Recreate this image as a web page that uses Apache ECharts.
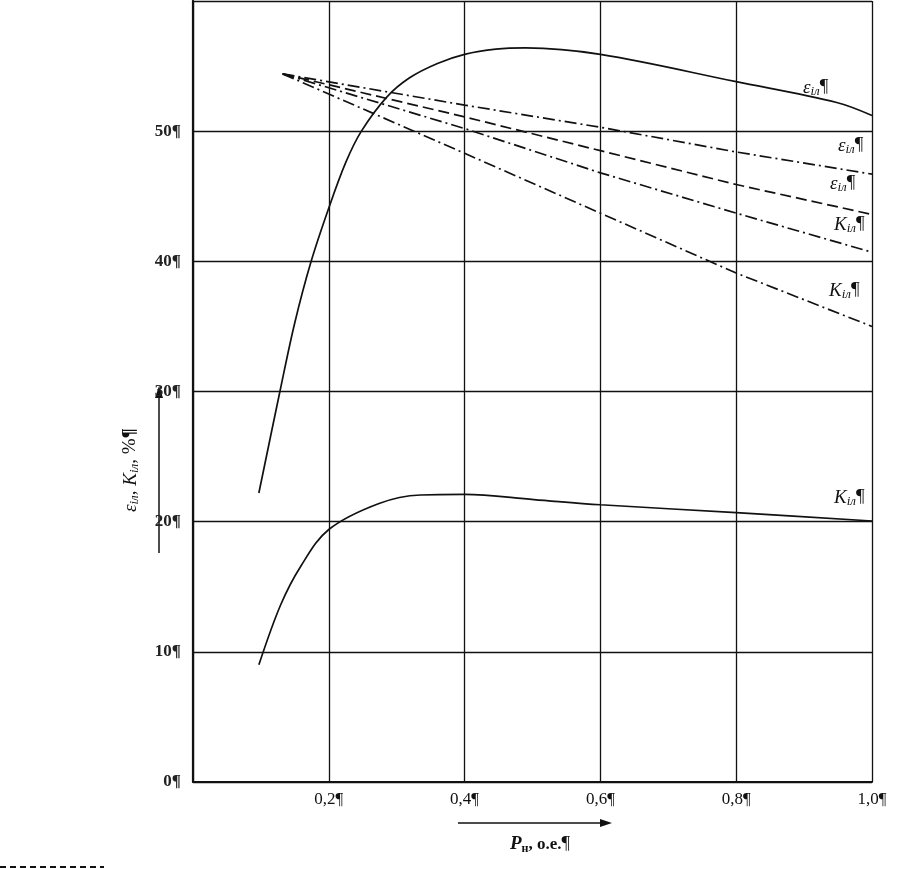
<!DOCTYPE html>
<html>
<head>
<meta charset="utf-8">
<script src="https://cdn.jsdelivr.net/npm/echarts@6/dist/echarts.min.js"></script>
<style>
  html, body { margin: 0; padding: 0; background: #fff; }
  #chart { width: 897px; height: 869px; }
</style>
</head>
<body>
<div id="chart"></div>
<script>
// tick labels
const xTicks = ['0,2¶', '0,4¶', '0,6¶', '0,8¶', '1,0¶'];
const yTicks = ['0¶', '10¶', '20¶', '30¶', '40¶', '50¶'];

// solid curves: [Pн, value %]
const epsSolid = [
  [0.097, 22.2], [0.128, 30.0], [0.15, 35.3], [0.174, 40.0], [0.2, 44.1],
  [0.225, 47.6], [0.248, 50.0], [0.285, 52.6], [0.319, 54.1], [0.36, 55.2],
  [0.4, 55.9], [0.446, 56.3], [0.49, 56.4], [0.6, 55.9], [0.8, 53.8],
  [0.948, 52.2], [1.0, 51.2]
];
const kSolid = [
  [0.097, 9.0], [0.129, 13.6], [0.159, 16.6], [0.2, 19.4],
  [0.274, 21.4], [0.335, 22.05], [0.4, 22.1], [0.502, 21.7], [0.6, 21.3],
  [0.8, 20.7], [1.0, 20.05]
];

// dashed / dash-dot straight lines
const epsDashDot = [[0.132, 54.4], [0.4, 52.0], [0.6, 50.3], [0.8, 48.4], [1.0, 46.7]];
const epsDashed = [[0.132, 54.4], [0.4, 51.1], [0.6, 48.5], [0.8, 45.9], [1.0, 43.6]];
const kDashDot1 = [[0.132, 54.4], [0.4, 50.2], [0.6, 46.8], [0.8, 43.7], [1.0, 40.7]];
const kDashDot2 = [[0.132, 54.4], [0.4, 48.3], [0.6, 43.7], [0.8, 39.1], [1.0, 35.0]];

const serif = '"Liberation Serif", "DejaVu Serif", serif';

const chart = echarts.init(document.getElementById('chart'));

// подпись ε/K с индексом іл
function curveLabel(sym, left, top) {
  return {
    type: 'text',
    left: left,
    top: top,
    style: {
      text: '{v|' + sym + '}{s|іл}{p|¶}',
      rich: {
        v: { fontFamily: serif, fontStyle: 'italic', fontSize: 19, fill: '#111' },
        s: { fontFamily: serif, fontStyle: 'italic', fontSize: 13, fill: '#111', padding: [8, 0, 0, 0] },
        p: { fontFamily: serif, fontSize: 19, fill: '#111' }
      }
    }
  };
}

function lineSeries(name, data, type, smooth) {
  return {
    name: name,
    type: 'line',
    data: data,
    smooth: smooth,
    showSymbol: false,
    silent: true,
    lineStyle: { color: '#111', width: 1.7, type: type },
    z: 5
  };
}

const option = {
  backgroundColor: '#fff',
  animation: false,
  grid: { left: 193, right: 25, top: 1, bottom: 87, show: false },
  xAxis: {
    type: 'value',
    min: 0,
    max: 1,
    interval: 0.2,
    axisLine: { show: true, lineStyle: { color: '#111', width: 2 } },
    axisTick: { show: false },
    axisLabel: {
      margin: 9,
      fontFamily: serif,
      fontSize: 17,
      color: '#111',
      formatter: function (v) {
        const i = Math.round(v / 0.2);
        return i === 0 ? '' : xTicks[i - 1];
      }
    },
    splitLine: { show: true, lineStyle: { color: '#111', width: 1.3 } }
  },
  yAxis: {
    type: 'value',
    min: 0,
    max: 60,
    interval: 10,
    axisLine: { show: true, lineStyle: { color: '#111', width: 2.2 } },
    axisTick: { show: false },
    axisLabel: {
      margin: 12,
      fontFamily: serif,
      fontWeight: 'bold',
      fontSize: 17,
      color: '#222',
      formatter: function (v) {
        const i = Math.round(v / 10);
        return i < yTicks.length ? yTicks[i] : '';
      }
    },
    splitLine: { show: true, lineStyle: { color: '#111', width: 1.3 } }
  },
  series: [
    lineSeries('εіл', epsSolid, 'solid', 0.35),
    lineSeries('Kіл', kSolid, 'solid', 0.35),
    lineSeries('εіл 2', epsDashDot, [12, 4, 2, 4], false),
    lineSeries('εіл 3', epsDashed, [11, 5], false),
    lineSeries('Kіл 2', kDashDot1, [12, 4, 2, 4], false),
    lineSeries('Kіл 3', kDashDot2, [12, 4, 2, 4], false)
  ],
  graphic: [
    curveLabel('ε', 803, 78),
    curveLabel('ε', 838, 136),
    curveLabel('ε', 830, 174),
    curveLabel('K', 834, 215),
    curveLabel('K', 829, 281),
    curveLabel('K', 834, 488),
    // подпись оси Y
    {
      type: 'text',
      x: 120,
      y: 512,
      rotation: Math.PI / 2,
      style: {
        text: '{v|ε}{s|іл}{t|, }{v|K}{s|іл}{t|, %}{p|¶}',
        rich: {
          v: { fontFamily: serif, fontStyle: 'italic', fontSize: 19, fill: '#111' },
          s: { fontFamily: serif, fontStyle: 'italic', fontSize: 13, fill: '#111', padding: [8, 0, 0, 0] },
          t: { fontFamily: serif, fontSize: 19, fill: '#111' },
          p: { fontFamily: serif, fontWeight: 'bold', fontSize: 19, fill: '#111' }
        }
      }
    },
    // стрелка оси Y
    {
      type: 'line',
      shape: { x1: 159, y1: 553, x2: 159, y2: 396 },
      style: { stroke: '#111', lineWidth: 1.5 }
    },
    {
      type: 'polygon',
      shape: { points: [[159, 386], [155, 398], [163, 398]] },
      style: { fill: '#111' }
    },
    // стрелка оси X
    {
      type: 'line',
      shape: { x1: 458, y1: 823, x2: 602, y2: 823 },
      style: { stroke: '#111', lineWidth: 1.5 }
    },
    {
      type: 'polygon',
      shape: { points: [[612, 823], [600, 819], [600, 827]] },
      style: { fill: '#111' }
    },
    // подпись оси X
    {
      type: 'text',
      left: 510,
      top: 835,
      style: {
        text: '{v|P}{s|н}{t|, о.е.}{p|¶}',
        rich: {
          v: { fontFamily: serif, fontStyle: 'italic', fontWeight: 'bold', fontSize: 19, fill: '#111' },
          s: { fontFamily: serif, fontWeight: 'bold', fontSize: 12, fill: '#111', padding: [8, 0, 0, 0] },
          t: { fontFamily: serif, fontWeight: 'bold', fontSize: 17, fill: '#111' },
          p: { fontFamily: serif, fontSize: 19, fill: '#111' }
        }
      }
    },
    // штриховая линия внизу слева
    {
      type: 'line',
      shape: { x1: 0, y1: 867, x2: 104, y2: 867 },
      style: { stroke: '#111', lineWidth: 2, lineDash: [6, 4] }
    }
  ]
};

chart.setOption(option);
</script>
</body>
</html>
